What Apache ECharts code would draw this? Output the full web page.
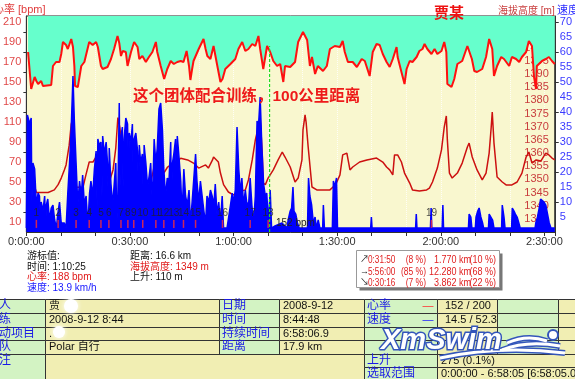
<!DOCTYPE html>
<html><head><meta charset="utf-8">
<script src="https://cdn.jsdelivr.net/npm/echarts@6/dist/echarts.min.js"></script>
<style>html,body{margin:0;padding:0;background:#fff;}#c{width:575px;height:379px;}</style>
</head><body><div id="c"></div>
<script>
// ---- data (time in minutes) ----
const hrPoints = [[0.5,180],[1.4,143],[2.4,155],[2.9,151],[3.4,148],[4.3,151],[4.8,146],[7.2,147],[7.7,166],[8.6,170],[9.6,170],[10.1,178],[10.6,190],[11.5,187],[12.0,183],[13.0,193],[13.5,185],[13.9,166],[14.1,146],[14.9,145],[15.9,166],[16.8,170],[18.2,190],[19.2,187],[20.2,190],[20.7,185],[21.1,185],[21.6,166],[22.1,163],[23.5,165],[24.5,173],[25.4,183],[26.4,196],[26.9,189],[27.4,176],[27.9,181],[28.8,180],[29.3,166],[30.3,180],[31.2,190],[32.2,185],[32.7,173],[33.6,176],[34.6,170],[35.5,175],[36.5,180],[37.5,190],[37.9,180],[38.9,166],[39.9,153],[40.8,163],[41.8,171],[42.7,168],[43.7,170],[44.7,171],[45.5,170],[46.4,181],[47.1,166],[47.5,152],[48.0,163],[48.4,171],[49.9,183],[51.3,193],[51.9,183],[52.4,176],[53.3,173],[54.2,186],[55.3,166],[56.2,150],[56.8,153],[57.6,163],[59.1,168],[60.5,173],[61.4,183],[62.5,190],[63.4,181],[64.3,183],[65.4,188],[66.3,186],[67.2,196],[67.7,183],[68.6,163],[69.7,186],[70.6,180],[71.5,171],[72.6,166],[73.5,168],[74.4,150],[74.9,166],[76.4,165],[77.8,170],[78.7,190],[80.1,200],[81.3,192],[82.1,166],[82.7,175],[83.6,158],[84.4,166],[85.9,161],[87.0,166],[87.9,183],[89.3,186],[90.8,185],[91.6,191],[92.2,180],[93.1,170],[94.5,170],[95.7,165],[97.1,173],[98.0,171],[99.4,156],[100.3,180],[101.4,188],[102.3,187],[103.2,178],[104.3,170],[105.2,165],[106.1,173],[107.2,185],[107.5,175],[108.9,156],[109.5,148],[110.1,163],[111.0,171],[111.8,170],[113.0,175],[113.8,181],[114.7,183],[115.3,188],[116.1,183],[117.3,178],[118.2,183],[119.0,178],[120.2,181],[121.0,190],[121.6,180],[121.9,148],[123.1,145],[123.9,153],[124.8,168],[126.2,171],[127.4,183],[127.7,186],[129.0,173],[129.7,161],[130.5,160],[132.0,163],[133.1,175],[134.0,193],[134.9,183],[135.4,156],[136.3,166],[137.5,175],[138.3,173],[139.8,166],[140.6,175],[141.8,173],[142.7,170],[143.5,175],[144.7,180],[145.5,191],[146.4,186],[147.0,155],[147.6,143],[147.8,166],[149.3,171],[150.4,173],[151.3,175],[152.2,171],[153.0,168]];

const altitudePoints = [[0.6,1356],[0.9,1352],[2.0,1349],[2.9,1345],[6.3,1345],[8.1,1346],[9.2,1348],[10.1,1350.5],[11.0,1353.6],[11.5,1355.5],[12.4,1363],[13.0,1371],[13.5,1373.5],[13.8,1365],[14.1,1354],[14.4,1347],[16.4,1347],[17.3,1352],[18.2,1356.6],[19.3,1356.6],[20.2,1358.5],[21.0,1356.6],[22.2,1354.7],[23.1,1351],[23.9,1348.6],[25.1,1353.6],[25.9,1362],[26.5,1373.5],[27.1,1369.5],[27.4,1365],[28.2,1356],[29.4,1348.6],[30.3,1346],[35.2,1346],[36.0,1348.6],[37.5,1358],[38.0,1360],[38.9,1358.5],[39.8,1352.4],[40.9,1354.7],[41.8,1355.5],[42.7,1356.2],[44.7,1358],[46.7,1357.4],[48.4,1356.2],[49.9,1354.3],[51.9,1355.5],[52.7,1354.3],[53.9,1357.4],[54.2,1358.5],[55.6,1356.6],[56.2,1352.4],[57.1,1348],[58.5,1345.2],[59.9,1344.1],[61.4,1345.2],[63.4,1346],[64.3,1349.8],[65.4,1357.4],[66.3,1365],[67.1,1369.5],[67.7,1373.5],[68.3,1360],[68.6,1348.6],[69.2,1348],[70.0,1350.5],[71.5,1353.6],[72.9,1357.4],[74.1,1360.4],[74.9,1358.5],[76.4,1354.7],[77.8,1349],[78.7,1350.5],[79.8,1357.4],[80.1,1368.8],[80.7,1374.5],[81.0,1371.8],[81.6,1362.3],[82.7,1347.1],[84.1,1346],[87.9,1346],[88.8,1347.1],[89.9,1349],[90.8,1351.7],[91.6,1359.3],[92.8,1360],[93.7,1353.6],[94.5,1354.7],[96.5,1356.6],[98.6,1357.4],[101.4,1358.1],[103.2,1356.6],[104.3,1354.7],[105.2,1353.6],[106.1,1351.7],[106.6,1359.3],[107.5,1359.3],[108.6,1356.6],[109.5,1352.4],[111.0,1348.6],[111.8,1346],[113.8,1345.6],[115.9,1346],[116.7,1346.7],[117.6,1349],[119.0,1354.3],[120.2,1361.2],[121.0,1369.9],[121.6,1374.1],[121.9,1365],[122.5,1352.4],[123.3,1350.5],[124.8,1352.4],[126.2,1356.2],[127.7,1362.3],[128.2,1363.8],[129.1,1358.5],[130.5,1353.6],[132.0,1349.8],[133.1,1352.4],[134.0,1360],[134.6,1369.9],[134.9,1375.6],[135.4,1363.8],[136.3,1350.9],[137.8,1349],[138.9,1347.9],[140.6,1347.9],[142.1,1349],[143.5,1352.4],[144.7,1358.5],[145.5,1360.4],[146.4,1356.2],[147.6,1357.4],[149.0,1357],[150.4,1360],[151.3,1359.3],[152.2,1358.1],[153.0,1357.4]];

const speedPoints = [[0,1.3],[0.3,39],[1.0,36],[1.4,38],[1.6,10],[1.9,23],[2.4,21],[2.9,9],[3.4,13],[3.8,12],[4.1,3],[4.3,10],[4.8,7],[5.3,12],[5.6,2],[5.8,9],[6.2,11],[6.7,4],[7.2,8],[7.7,9],[8.2,4],[8.7,1.3],[9.1,6],[9.6,10],[10.1,3],[11.0,3],[11.5,1.3],[12.0,13],[12.5,23],[13.0,35],[13.5,52],[13.9,37],[14.4,23],[14.9,9],[15.4,17],[15.9,12],[16.3,19],[16.8,9],[17.3,12],[17.8,2],[18.3,13],[18.7,17],[19.2,12],[19.7,21],[20.2,27],[20.5,8],[20.7,31],[21.1,29],[21.6,30],[21.9,12],[22.1,32],[22.6,26],[23.1,30],[23.5,23],[23.8,6],[24.0,28],[24.5,16],[25.0,9],[25.5,17],[25.9,23],[26.2,3],[26.5,12],[26.9,43],[27.1,14],[27.4,32],[27.8,35],[28.0,15],[28.3,31],[28.8,38],[29.3,36],[29.6,18],[29.8,33],[30.3,30],[30.7,36],[31.0,14],[31.2,31],[31.7,33],[32.2,27],[32.5,10],[32.7,29],[33.1,23],[33.6,26],[33.9,8],[34.1,29],[34.6,23],[35.1,15],[35.6,19],[36.0,23],[36.5,9],[37.0,31],[37.5,23],[37.9,28],[38.4,41],[38.9,43],[39.4,34],[39.8,21],[40.3,12],[40.8,18],[41.3,17],[41.8,30],[42.0,9],[42.3,23],[42.7,26],[43.2,31],[43.5,11],[43.7,32],[44.2,25],[44.7,17],[45.1,6],[45.6,21],[46.1,12],[46.6,9],[47.1,14],[47.5,3],[48.0,10],[48.5,18],[49.0,26],[49.4,17],[49.9,10],[50.4,17],[50.9,12],[51.4,7],[51.9,3],[52.3,12],[52.8,10],[53.3,14],[53.8,12],[54.3,9],[54.7,16],[55.2,6],[55.7,10],[56.2,3],[56.7,12],[57.1,1.3],[58.1,1.3],[59.1,9],[59.6,13],[60.0,10],[60.5,14],[61.0,35],[61.5,21],[62.0,13],[62.4,18],[62.9,9],[63.4,14],[63.9,9],[64.4,10],[64.8,18],[65.3,9],[65.8,3],[66.3,12],[66.8,37],[67.2,35],[67.7,45],[68.2,28],[68.7,16],[69.2,12],[69.6,13],[70.1,3],[70.6,14],[71.0,1.3],[72.0,2],[74.0,3],[75.5,1.3],[75.8,4],[76.4,7],[76.8,8],[77.2,15],[77.5,7],[78.0,6],[78.5,3],[79.0,1.3],[81.4,1.3],[81.7,18],[82.1,12],[82.6,9],[83.1,3],[83.6,5],[84.0,1.3],[84.5,4],[85.0,1.3],[85.8,1.3],[86.0,9],[86.3,1.3],[88.6,1.3],[88.9,17],[89.3,15],[89.8,18],[90.1,1.3],[99.7,1.3],[99.9,5],[100.1,1.3],[112.7,1.3],[112.9,6],[113.1,1.3],[117.0,1.3],[117.2,8],[117.4,1.3],[120.4,1.3],[120.6,9],[120.8,1.3],[128.0,1.3],[128.2,6],[128.7,5],[129.0,1.3],[130.0,1.3],[130.2,5],[130.7,7],[131.1,8],[131.6,5],[132.1,3],[132.4,1.3],[133.8,1.3],[134.0,6],[134.5,6],[135.0,4],[135.4,1.3],[137.6,1.3],[137.8,9],[138.3,5],[138.6,1.3],[140.5,1.3],[140.7,8],[141.2,7],[141.6,6],[142.1,5],[142.6,3],[143.0,1.3],[147.3,1.3],[147.5,3],[148.0,5],[148.5,8],[148.9,11],[149.4,11],[149.9,10],[150.4,9],[150.9,6],[151.4,3],[151.9,1.3],[153,1.3]];

const lapTimes = [2.9,9.2,14.4,18.2,21.6,23.9,27.4,29.4,31.1,33.7,37.5,39.8,42.7,45.5,49.0,56.8,64.8,70.0,117.3];
const lapLabels = ['1','2','3','4','5','6','7','8','9','10','11','12','13','14','15','16','17','18','19'];
const cursorTime = 70.42, cursorHr = 186;

const hrLabelValues = [10,30,50,70,90,110,130,150,170,190,210];
const hrTickValues = [20,40,60,80,100,120,140,160,180,200];
const altLabelValues = [1335,1340,1345,1350,1355,1360,1365,1370,1375,1380,1385,1390,1395,1400,1405,1410];
const speedLabelValues = [5,10,15,20,25,30,35,40,45,50,55,60,65,70];
const speedTickValues = [10,20,30,40,50,60,70];

const cursorInfoLeft = [['游标值:','#111'],['时间: 1:10:25','#111'],['心率: 188 bpm','#e01818'],['速度: 13.9 km/h','#1818ff']];
const cursorInfoRight = [['距离: 16.6 km','#111'],['海拔高度: 1349 m','#e01818'],['上升: 110 m','#111']];
const segArrows = ['↗','→','↘'];
const segTimes = ['0:31:50','5:56:00','0:30:16'];
const segTimePct = ['(8 %)','(85 %)','(7 %)'];
const segDist = ['1.770 km','12.280 km','3.862 km'];
const segDistPct = ['(10 %)','(68 %)','(22 %)'];

const tableLeft = [['个人','贾','日期','2008-9-12'],['训练','2008-9-12 8:44','时间','8:44:48'],['运动项目','.','持续时间','6:58:06.9'],['团队','Polar 自行','距离','17.9 km']];
const noteLabel = '备注';
const tableRight = [['心率','—','152 / 200'],['速度','—','14.5 / 52.3'],['','',''],['','',''],['上升','','275 (0.1%)'],['选取范围','','0:00:00 - 6:58:05 [6:58:05.0]']];

// ---- rendering ----
const FF = '"Liberation Sans","Noto Sans CJK SC",sans-serif';
const F = (s, w) => (w ? w + ' ' : '') + s + 'px ' + FF;
function T(text, x, y, fill, size, align, weight, sx) {
  return {type:'text', x:x, y:y, z:100, silent:true, scaleX:sx||1,
    style:{text:text, fill:fill, font:F(size, weight), align:align||'left', textAlign:align||'left', verticalAlign:'middle', textVerticalAlign:'middle'}};
}
const GREEN = '#d3f3c3', YEL = '#f1eeb3';
const g = [];
const colX = [-30, 45, 219, 279, 364, 437, 497, 558, 600];
const rowY = [299, 313, 327, 340, 354];
function cell(x1, y1, x2, y2, fill) {
  g.push({type:'rect', z:10, silent:true, shape:{x:x1+0.5, y:y1+0.5, width:x2-x1, height:y2-y1}, style:{fill:fill, stroke:'#333', lineWidth:1}});
}
for (let r = 0; r < 4; r++) {
  for (let c = 0; c < 8; c++) cell(colX[c], rowY[r], colX[c+1], rowY[r+1], c % 2 === 0 ? GREEN : YEL);
}
cell(colX[0], 354, colX[1], 400, GREEN);
cell(colX[1], 354, colX[4], 400, YEL);
cell(colX[4], 354, colX[5], 367, GREEN);
cell(colX[5], 354, colX[8], 367, YEL);
cell(colX[4], 367, colX[5], 400, GREEN);
cell(colX[5], 367, colX[8], 400, YEL);
const rowC = [306, 320, 333.5, 347, 360.5, 373.5];
tableLeft.forEach((row, i) => {
  g.push(T(row[0], -13, rowC[i], '#1a1ae6', 12));
  g.push(T(row[1], 49, rowC[i], '#111', 11));
  g.push(T(row[2], 222, rowC[i], '#1a1ae6', 12));
  g.push(T(row[3], 283, rowC[i], '#111', 11));
});
g.push(T(noteLabel, -13, 361, '#1a1ae6', 12));
tableRight.forEach((row, i) => {
  if (row[0]) g.push(T(row[0], 367, rowC[i], '#1a1ae6', 12));
  if (row[1]) g.push(T(row[1], 428, rowC[i], i === 0 ? '#ff3030' : '#1a1aff', 11, 'center'));
  if (row[2]) g.push(T(row[2], i >= 4 ? 441 : 445, rowC[i], '#111', 11));
});
g.push({type:'circle', z:101, silent:true, shape:{cx:71, cy:306, r:7}, style:{fill:'#fff', shadowBlur:5, shadowColor:'#fff'}});
g.push({type:'circle', z:101, silent:true, shape:{cx:59, cy:332, r:6}, style:{fill:'#fff', shadowBlur:5, shadowColor:'#fff'}});
// logo
function swoosh(x1, y1, cx, cy, x2, y2) {
  g.push({type:'bezierCurve', z:110, silent:true, shape:{x1:x1, y1:y1, cpx1:cx, cpy1:cy, x2:x2, y2:y2}, style:{fill:null, stroke:'#3355bb', lineWidth:6}});
  g.push({type:'bezierCurve', z:111, silent:true, shape:{x1:x1, y1:y1, cpx1:cx, cpy1:cy, x2:x2, y2:y2}, style:{fill:null, stroke:'#fff', lineWidth:3}});
}
swoosh(440, 358, 500, 345, 565, 353);
swoosh(507, 343, 527, 334, 547, 341);
swoosh(502, 350, 527, 340, 560, 346);
g.push({type:'circle', z:111, silent:true, shape:{cx:553, cy:335, r:5}, style:{fill:'#fff', stroke:'#3355bb', lineWidth:2}});
g.push({type:'text', x:381, y:341, z:112, silent:true, style:{text:'XmSwim', font:'italic bold 29px "Liberation Sans",sans-serif', fill:'#fff', stroke:'#3355bb', lineWidth:3, align:'left', textAlign:'left', verticalAlign:'middle', textVerticalAlign:'middle'}});
// headings
g.push(T('心率 [bpm]', -7, 10, '#e03c3c', 11));
g.push(T('海拔高度 [m]', 498, 11, '#c83c3c', 10));
g.push(T('速度 [km/h]', 557, 11, '#2a2aff', 11));
g.push(T('贾某', 449, 14, '#ee1111', 15, 'center', 'bold'));
g.push(T('这个团体配合训练，100公里距离', 133, 97, '#ee1a1a', 15.5, 'left', 'bold'));
g.push(T('152 bpm', 276, 223, '#222', 10));
const infoY = [256, 267, 277, 288];
cursorInfoLeft.forEach((d, i) => g.push(T(d[0], 27, infoY[i], d[1], 10)));
cursorInfoRight.forEach((d, i) => g.push(T(d[0], 130, infoY[i], d[1], 10)));
g.push({type:'rect', z:20, silent:true, shape:{x:359.5, y:253.5, width:143, height:37}, style:{fill:'#777'}});
g.push({type:'rect', z:21, silent:true, shape:{x:356.5, y:250.5, width:143, height:37}, style:{fill:'#fff', stroke:'#999', lineWidth:1}});
const segY = [260, 272, 283];
segTimes.forEach((t, i) => {
  g.push(T(segArrows[i], 360, segY[i], '#222', 9));
  g.push(T(t, 368, segY[i], '#e02020', 10, 'left', null, 0.82));
  g.push(T(segTimePct[i], 426, segY[i], '#e02020', 10, 'right', null, 0.85));
  g.push(T(segDist[i], 471, segY[i], '#e02020', 10, 'right', null, 0.9));
  g.push(T(segDistPct[i], 496, segY[i], '#e02020', 10, 'right', null, 0.9));
});

const fmtTime = v => Math.floor(v / 60) + ':' + String(v % 60).padStart(2, '0') + ':00';
const plain = v => String(v);
const chart = echarts.init(document.getElementById('c'), null, {renderer:'canvas'});
chart.setOption({
  animation:false,
  backgroundColor:'#fff',
  grid:{left:25, right:19, top:16, bottom:147, show:true, backgroundColor:'#f9f7cf', borderColor:'#222', borderWidth:1},
  xAxis:{type:'value', min:0, max:153, interval:30,
    axisLine:{lineStyle:{color:'#333'}},
    axisTick:{length:4, lineStyle:{color:'#333'}},
    minorTick:{show:true, splitNumber:3, length:4, lineStyle:{color:'#333'}},
    splitLine:{show:true, lineStyle:{color:'rgba(255,255,255,0.8)', type:'dotted'}},
    minorSplitLine:{show:true, lineStyle:{color:'rgba(255,255,255,0.8)', type:'dotted'}},
    axisLabel:{formatter:fmtTime, color:'#333', fontSize:11, fontFamily:FF, margin:4, showMaxLabel:false}},
  yAxis:[
    {type:'value', position:'left', min:0, max:216,
      axisLine:{show:true, lineStyle:{color:'#333'}},
      axisTick:{show:true, length:3, customValues:hrTickValues, lineStyle:{color:'#333'}},
      axisLabel:{customValues:hrLabelValues, formatter:plain, color:'#e04848', fontSize:11, fontFamily:FF, margin:5},
      splitLine:{show:false}},
    {type:'value', position:'right', min:1330, max:1412.1,
      axisLine:{show:false}, axisTick:{show:false},
      axisLabel:{inside:true, customValues:altLabelValues, formatter:plain, color:'#c83c3c', fontSize:11, fontFamily:FF, margin:6},
      splitLine:{show:false}},
    {type:'value', position:'right', min:0, max:72,
      axisLine:{show:true, lineStyle:{color:'#333'}},
      axisTick:{show:true, length:4, customValues:speedTickValues, lineStyle:{color:'#333'}},
      axisLabel:{customValues:speedLabelValues, formatter:plain, color:'#3a3aff', fontSize:11, fontFamily:FF, margin:5},
      splitLine:{show:false}}
  ],
  series:[
    {type:'line', yAxisIndex:0, data:hrPoints, symbol:'none', z:2,
      lineStyle:{color:'#ff1010', width:2}, areaStyle:{color:'#66ffcc', origin:'end', opacity:1}},
    {type:'line', yAxisIndex:1, data:altitudePoints, symbol:'none', z:3,
      lineStyle:{color:'#cc1010', width:1.5}},
    {type:'line', yAxisIndex:2, data:speedPoints, symbol:'none', z:4,
      lineStyle:{color:'#0000ff', width:1.5}, areaStyle:{color:'#0000ff', opacity:1}},
    {type:'line', yAxisIndex:0, z:6, symbol:'none', silent:true, color:'#22dd22',
      data:[[cursorTime, 0], [cursorTime, cursorHr]],
      lineStyle:{color:'#22dd22', type:[3,2], width:1.2}},
    {type:'scatter', yAxisIndex:2, z:5, symbol:'rect', symbolSize:[1.5, 8],
      data:lapTimes.map((t, i) => ({value:[t, 2.7], name:lapLabels[i]})),
      itemStyle:{color:'#ff3030'},
      label:{show:true, position:'top', distance:2, formatter:p => p.name, color:'#222', fontSize:10, fontFamily:FF}}
  ],
  graphic:{elements:g}
});
</script></body></html>
